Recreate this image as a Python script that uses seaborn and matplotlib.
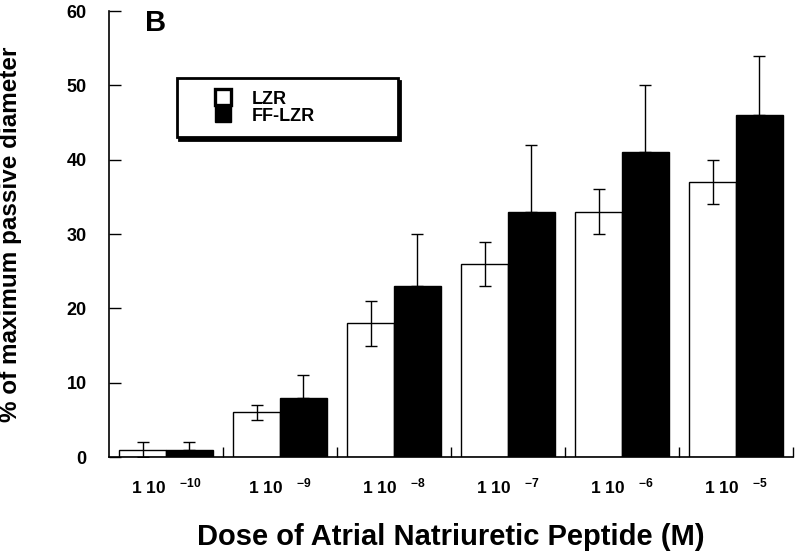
import matplotlib
matplotlib.use("Agg")
import matplotlib.pyplot as plt
from matplotlib.lines import Line2D
import seaborn as sns
import pandas as pd
import numpy as np

# ---- data ----
doses = ["1e-10", "1e-9", "1e-8", "1e-7", "1e-6", "1e-5"]
tick_labels = ["1 10   $^{-10}$", "1 10   $^{-9}$", "1 10   $^{-8}$",
               "1 10   $^{-7}$", "1 10   $^{-6}$", "1 10   $^{-5}$"]
groups = ["LZR", "FF-LZR"]
lzr_mean = [1, 6, 18, 26, 33, 37]
lzr_err = [1, 1, 3, 3, 3, 3]
ff_mean = [1, 8, 23, 33, 41, 46]
ff_err = [1, 3, 7, 9, 9, 8]

df = pd.DataFrame({
    "dose": doses * 2,
    "strain": ["LZR"] * len(doses) + ["FF-LZR"] * len(doses),
    "value": lzr_mean + ff_mean,
})

sns.set_style("ticks")
plt.rcParams["font.family"] = ["Liberation Sans", "DejaVu Sans"]
plt.rcParams["font.weight"] = "bold"
plt.rcParams["text.color"] = "black"
plt.rcParams["axes.labelcolor"] = "black"
plt.rcParams["xtick.color"] = "black"
plt.rcParams["ytick.color"] = "black"
plt.rcParams["mathtext.fontset"] = "custom"
plt.rcParams["mathtext.rm"] = "Liberation Sans:bold"
plt.rcParams["mathtext.it"] = "Liberation Sans:bold"
plt.rcParams["mathtext.bf"] = "Liberation Sans:bold"
plt.rcParams["mathtext.default"] = "regular"

fig = plt.figure(figsize=(8, 5.56), dpi=100)
ax = fig.add_axes([0.13625, 0.178, 0.855, 0.802])

sns.barplot(data=df, x="dose", y="value", hue="strain", order=doses,
            hue_order=groups, palette={"LZR": "white", "FF-LZR": "black"},
            edgecolor="black", linewidth=1.0, width=0.82, gap=0,
            errorbar=None, legend=False, ax=ax)

# error bars at bar centres
lzr_x = [p.get_x() + p.get_width() / 2 for p in ax.containers[0]]
ff_x = [p.get_x() + p.get_width() / 2 for p in ax.containers[1]]
ax.errorbar(lzr_x, lzr_mean, yerr=lzr_err, fmt="none", ecolor="black",
            elinewidth=1.0, capsize=4.5, capthick=1.0, zorder=5)
ax.errorbar(ff_x, ff_mean, yerr=[[0] * len(ff_err), ff_err], fmt="none",
            ecolor="black", elinewidth=1.0, capsize=4.5, capthick=1.0, zorder=5)

ax.set_xlim(-0.5, 5.5)
ax.set_ylim(0, 60)
ax.set_yticks(np.arange(0, 61, 10))
ax.set_xticks(range(len(doses)))
ax.set_xticklabels(tick_labels)
ax.set_xticks(np.arange(0.5, 5.6, 1.0), minor=True)

for s in ["top", "right"]:
    ax.spines[s].set_visible(False)
for s in ["left", "bottom"]:
    ax.spines[s].set_linewidth(1.2)
    ax.spines[s].set_color("black")

ax.tick_params(axis="y", direction="in", length=8.6, width=1.0,
               pad=16, labelsize=13)
ax.tick_params(axis="x", which="major", length=0, pad=14, labelsize=12.5)
ax.tick_params(axis="x", which="minor", direction="in", length=7, width=1.0)
for t in ax.get_xticklabels() + ax.get_yticklabels():
    t.set_fontweight("bold")

ax.set_xlabel("Dose of Atrial Natriuretic Peptide (M)", fontsize=21,
              fontweight="bold")
ax.xaxis.set_label_coords(0.5, -0.148)
ax.set_ylabel("% of maximum passive diameter", fontsize=17.5, fontweight="bold")
ax.yaxis.set_label_coords(-0.127, 0.5)

ax.text(0.0526, 0.955, "B", transform=ax.transAxes, fontsize=21,
        fontweight="bold", ha="left", va="baseline")

handles = [
    Line2D([], [], linestyle="none", marker="s", markersize=12,
           markerfacecolor="white", markeredgecolor="black", markeredgewidth=2.4),
    Line2D([], [], linestyle="none", marker="s", markersize=12,
           markerfacecolor="black", markeredgecolor="black"),
]
leg = ax.legend(handles, groups, loc="upper left",
                bbox_to_anchor=(0.099, 0.722, 0.323, 0.128), mode="expand",
                borderaxespad=0, borderpad=0.7, handlelength=3.7,
                handletextpad=-0.27, labelspacing=0.0, fancybox=False,
                frameon=True, edgecolor="black", framealpha=1,
                shadow={"color": "black", "alpha": 1},
                prop={"size": 13, "weight": "bold"})
leg.get_frame().set_linewidth(2.0)

fig.savefig("out.png", dpi=100)
